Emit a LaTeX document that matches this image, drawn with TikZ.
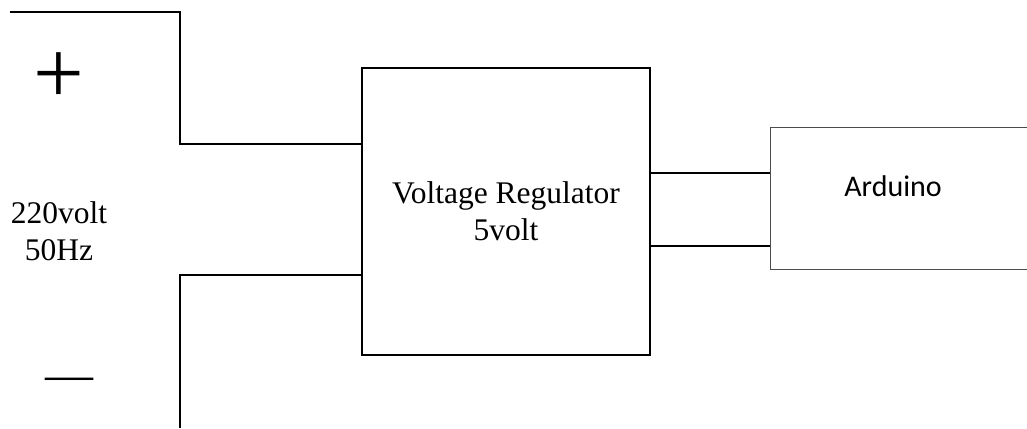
\documentclass[tikz,border=0pt]{standalone}
\usepackage{fontspec}
\setmainfont{Liberation Serif}
\newfontfamily\ardfont{Carlito}
\usepackage{tikz}

\tikzset{
  wire/.style={line width=2.4pt, black},
  regbox/.style={draw, line width=2.4pt, minimum width=288pt, minimum height=287pt, align=center, font=\fontsize{31.5}{37}\selectfont, inner sep=0pt},
  ardbox/.style={draw=black!70, line width=1.4pt, minimum width=300pt, minimum height=142pt, anchor=north west, inner sep=0pt}
}

\begin{document}
\begin{tikzpicture}[x=1pt, y=-1pt]
        \useasboundingbox (0,0) rectangle (1027,428);
        \node[regbox] (reg) at (506,211.5) {Voltage Regulator\\5volt};
        \node[ardbox] (ard) at (770,127) {};
        \node[font=\ardfont\fontsize{30}{36}\selectfont] (ardtxt) at (893,186) {Arduino};
        \node[font=\fontsize{31.5}{37}\selectfont, align=center] (src) at (59,231) {220volt\\50Hz};
        \node[font=\fontsize{90}{90}\selectfont, inner sep=0pt] (plus) at (59,78) {+};
        \node[font=\fontsize{48}{48}\selectfont, inner sep=0pt] (minus) at (69,384) {—};
        \coordinate (ptop) at (10,12);
        \coordinate (pbot) at (180,428);
        \draw[wire] (ptop) -- (180,12) |- (reg.west |- 0,144);
        \draw[wire] (pbot) |- (reg.west |- 0,275);
        \draw[wire] (reg.east |- 0,173) -- (ard.west |- 0,173);
        \draw[wire] (reg.east |- 0,246) -- (ard.west |- 0,246);
    \end{tikzpicture}
\end{document}
